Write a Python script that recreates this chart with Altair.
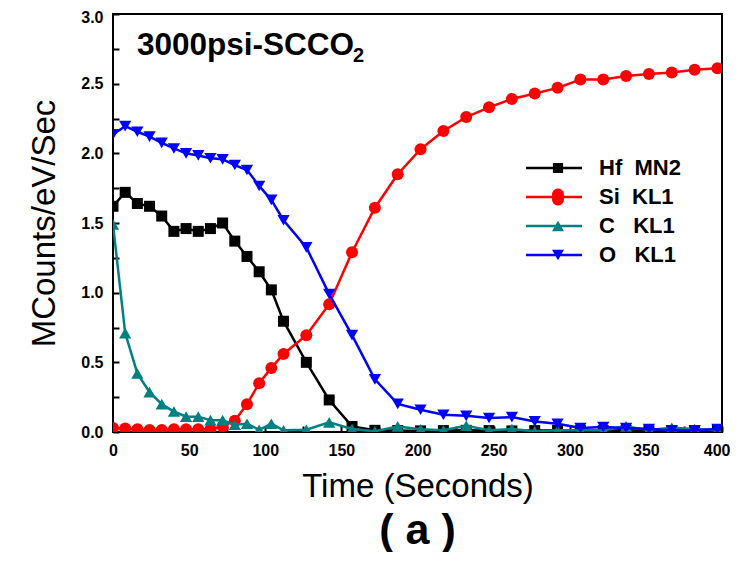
import altair as alt
import pandas as pd

TIME = [0, 8, 16, 24, 32, 40, 48, 56, 64, 72, 80, 88, 96, 104, 112,
        127, 142, 157, 172, 187, 202, 217, 232, 247, 262, 277, 292,
        307, 322, 337, 352, 367, 382, 397]
HF = [1.62, 1.72, 1.64, 1.62, 1.55, 1.44, 1.46, 1.44, 1.46, 1.50, 1.37,
      1.26, 1.15, 1.02, 0.795, 0.50, 0.23, 0.04, 0.012, 0.01, 0.008,
      0.01, 0.012, 0.01, 0.008, 0.01, 0.012, 0.01, 0.01, 0.012, 0.008,
      0.01, 0.01, 0.012]
SI = [0.028, 0.025, 0.02, 0.015, 0.015, 0.02, 0.02, 0.02, 0.02, 0.04,
      0.08, 0.20, 0.35, 0.46, 0.56, 0.695, 0.917, 1.29, 1.61, 1.85,
      2.03, 2.16, 2.26, 2.33, 2.39, 2.43, 2.47, 2.53, 2.53, 2.555, 2.57,
      2.58, 2.60, 2.61]
CC = [1.49, 0.71, 0.42, 0.286, 0.2, 0.147, 0.11, 0.11, 0.085, 0.085,
      0.052, 0.059, 0.016, 0.059, 0.012, 0.016, 0.069, 0.021, 0.005,
      0.04, 0.02, 0.012, 0.045, 0.012, 0.021, 0.005, 0.012, 0.012,
      0.012, 0.04, 0.015, 0.03, 0.021, 0.012]
OO = [2.136, 2.195, 2.155, 2.12, 2.075, 2.035, 2.0, 1.985, 1.965, 1.957,
      1.916, 1.88, 1.766, 1.666, 1.52, 1.325, 0.99, 0.695, 0.378, 0.202,
      0.16, 0.124, 0.116, 0.10, 0.107, 0.076, 0.059, 0.028, 0.036,
      0.028, 0.021, 0.012, 0.012, 0.021]

SERIES = ["Hf", "Si", "C", "O"]
VALUES = [HF, SI, CC, OO]
NB = "\u00a0"
LABELS = ["Hf" + NB * 2 + "MN2", "Si" + NB * 2 + "KL1",
          "C" + NB * 3 + "KL1", "O" + NB * 3 + "KL1"]
COLORS = ["#000000", "#ff0000", "#008080", "#0000ff"]
SHAPES = ["square", "circle", "triangle-up", "triangle-down"]
SIZES = [121, 144, 150, 150]

# legend symbols: marker with a line through it (unit = sqrt(size)/2 px)
PATHS = [
    "M-5.33,-0.2H-0.85V-0.85H0.85V-0.2H4V0.2H0.85V0.85H-0.85V0.2H-5.33Z",
    "M-5.33,-0.2H-0.98A1,1 0 1,1 0.98,-0.2H4V0.2H0.98A1,1 0 1,1 -0.98,0.2H-5.33Z",
    "M-5.33,-0.2H-0.385L0,-0.866L0.385,-0.2H4V0.2H0.615L1,0.866H-1L-0.615,0.2H-5.33Z",
    "M-5.33,-0.2H-0.615L-1,-0.866H1L0.615,-0.2H4V0.2H0.385L0,0.866L-0.385,0.2H-5.33Z",
]

rows = []
for s, lab, vals in zip(SERIES, LABELS, VALUES):
    for t, v in zip(TIME, vals):
        rows.append({"t": t, "v": v, "s": s, "label": lab})
df = pd.DataFrame(rows)

W, H = 609, 418
FONT = "Liberation Sans"
xs = alt.Scale(domain=[0, 400], nice=False)
ys = alt.Scale(domain=[0, 3], nice=False)

main_x = alt.Axis(title="Time (Seconds)", values=list(range(0, 401, 50)), format="d",
                  labelFont=FONT, labelFontSize=16, labelFontWeight="bold", labelColor="black",
                  labelAlign=alt.expr("datum.value == 400 ? 'right' : 'center'"),
                  labelOffset=alt.expr("datum.value == 400 ? 8 : 0"),
                  ticks=False, tickSize=0, domain=False, grid=False, labelPadding=10,
                  labelFlush=False, titleFont=FONT, titleFontSize=33, titleFontWeight="normal",
                  titleColor="black", titlePadding=12)
main_y = alt.Axis(title="MCounts/eV/Sec", values=[0, 0.5, 1.0, 1.5, 2.0, 2.5, 3.0], format=".1f",
                  labelFont=FONT, labelFontSize=16, labelFontWeight="bold", labelColor="black",
                  labelOffset=alt.expr("datum.value == 3 ? 3 : 0"),
                  ticks=False, tickSize=0, domain=False, grid=False, labelPadding=10,
                  labelFlush=False, titleFont=FONT, titleFontSize=33, titleFontWeight="normal",
                  titleColor="black", titlePadding=19)
tick_x = alt.Axis(orient="top", offset=-H, values=list(range(0, 401, 25)), labels=False,
                  domain=False, grid=False, ticks=True, tickSize=6, tickWidth=2,
                  tickColor="black", title=None)
tick_y = alt.Axis(orient="right", offset=-W, values=[i * 0.25 for i in range(13)], labels=False,
                  domain=False, grid=False, ticks=True, tickSize=6, tickWidth=2,
                  tickColor="black", title=None)

layers = []
for i, (s, col, shp, sz) in enumerate(zip(SERIES, COLORS, SHAPES, SIZES)):
    base = alt.Chart(df).transform_filter(alt.datum.s == s)
    line = base.mark_line(color=col, strokeWidth=2.5, clip=True).encode(
        x=alt.X("t:Q", scale=xs, axis=main_x if i == 0 else None),
        y=alt.Y("v:Q", scale=ys, axis=main_y if i == 0 else None),
    )
    pts = base.mark_point(shape=shp, filled=True, size=sz, opacity=1, color=col,
                          strokeWidth=0, clip=True).encode(
        x=alt.X("t:Q", scale=xs, axis=tick_x if i == 0 else None),
        y=alt.Y("v:Q", scale=ys, axis=tick_y if i == 0 else None),
    )
    layers += [line, pts]

leg = alt.Legend(orient="none", legendX=434, legendY=143, title=None, padding=0,
                 labelFont=FONT, labelFontSize=22, labelFontWeight="bold", labelColor="black",
                 labelOffset=30, rowPadding=7, symbolSize=144, symbolStrokeWidth=0,
                 symbolOpacity=1, labelLimit=400)
legend_layer = alt.Chart(df).transform_filter("false").mark_point(
    filled=True, opacity=1, size=144).encode(
    x=alt.X("t:Q", scale=xs, axis=None),
    y=alt.Y("v:Q", scale=ys, axis=None),
    color=alt.Color("label:N", scale=alt.Scale(domain=LABELS, range=COLORS), legend=leg),
    shape=alt.Shape("label:N", scale=alt.Scale(domain=LABELS, range=PATHS), legend=leg),
)
layers.append(legend_layer)

one = alt.InlineData(values=[{"a": 1}])
ann = alt.Chart(one).mark_text(text="3000psi-SCCO", font=FONT, fontSize=31.5, fontWeight="bold",
                               align="left", baseline="alphabetic", color="black").encode(
    x=alt.value(24), y=alt.value(41))
sub = alt.Chart(one).mark_text(text="2", font=FONT, fontSize=20, fontWeight="bold",
                               align="left", baseline="alphabetic", color="black").encode(
    x=alt.value(240), y=alt.value(48))
layers += [ann, sub]

chart = alt.layer(*layers).resolve_axis(x="independent", y="independent").properties(
    width=W, height=H,
    autosize=alt.AutoSizeParams(type="none"),
    padding={"left": 105, "top": 6, "right": 8, "bottom": 120},
    title=alt.TitleParams("( a )", orient="bottom", anchor="middle", font=FONT, fontSize=43,
                          fontWeight="bold", color="black", offset=7),
).configure(background="white").configure_view(stroke="black", strokeWidth=2)

chart.save("out.html", embed_options={"renderer": "svg", "actions": False})
